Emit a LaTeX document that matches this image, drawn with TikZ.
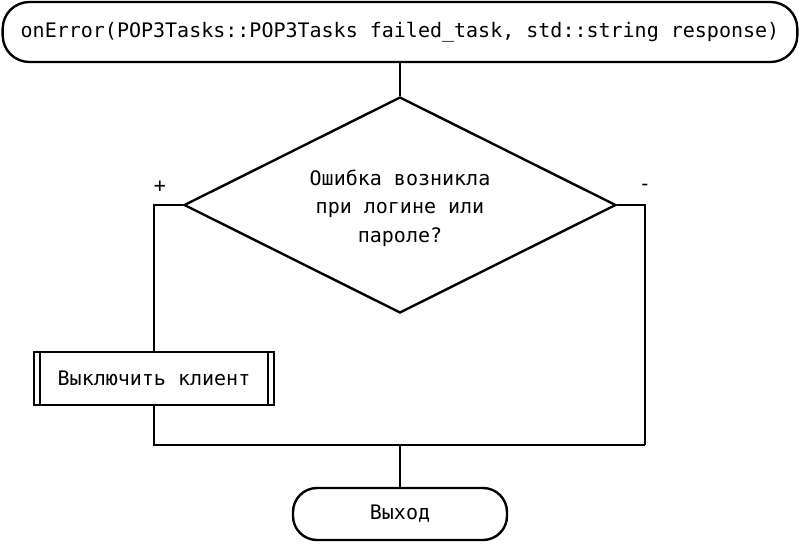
\documentclass[tikz,border=0pt]{standalone}
\usepackage{fontspec}
\setmonofont{DejaVu Sans Mono}
\usetikzlibrary{positioning,shapes.geometric}
\tikzset{
  flowline/.style={line width=1.8pt},
  terminal/.style={draw, line width=1.8pt, rounded corners=20pt, fill=white, align=center},
  decision/.style={draw, line width=1.8pt, diamond, aspect=2, inner sep=0pt, minimum width=324pt, minimum height=162pt, align=center},
  process/.style={draw, line width=1.8pt, minimum width=180pt, minimum height=39.75pt, align=center},
  branchlabel/.style={inner sep=1pt}
}

\begin{document}
\begin{tikzpicture}[x=0.75pt, y=-0.75pt, every node/.style={font=\ttfamily\fontsize{15}{21.5}\selectfont}]
  \useasboundingbox (0,0) rectangle (800,543);
  \node[terminal, minimum width=596pt, minimum height=45pt] (start) at (400,32) {onError(POP3Tasks::POP3Tasks failed\_task, std::string response)};
  \node[decision] (cond) at (400,205) {};
  \node (question) at (400,208) [align=center] {Ошибка возникла\\ при логине или\\ пароле?};
  \node[process] (act) at (154,378.5) {Выключить клиент};
  \node[terminal, minimum width=160.5pt, minimum height=39pt, rounded corners=18pt] (stop) at (400,514) {Выход};
  \node[branchlabel] (plus) at (160,187) {+};
  \node[branchlabel] (minus) at (645,187) {-};
  \coordinate (rjoin) at (645,445);
  \coordinate (join) at (400,445);
  % double bars of the process box
  \draw[flowline] ([xshift=5.25pt]act.north west) -- ([xshift=5.25pt]act.south west);
  \draw[flowline] ([xshift=-5.25pt]act.north east) -- ([xshift=-5.25pt]act.south east);
  \draw[flowline] (start) -- (cond);
  \draw[flowline] (cond.west) -| (act.north);
  \draw[flowline] (cond.east) -| (rjoin);
  \draw[flowline] (act.south) |- (rjoin);
  \draw[flowline] (join) -- (stop);
\end{tikzpicture}
\end{document}
